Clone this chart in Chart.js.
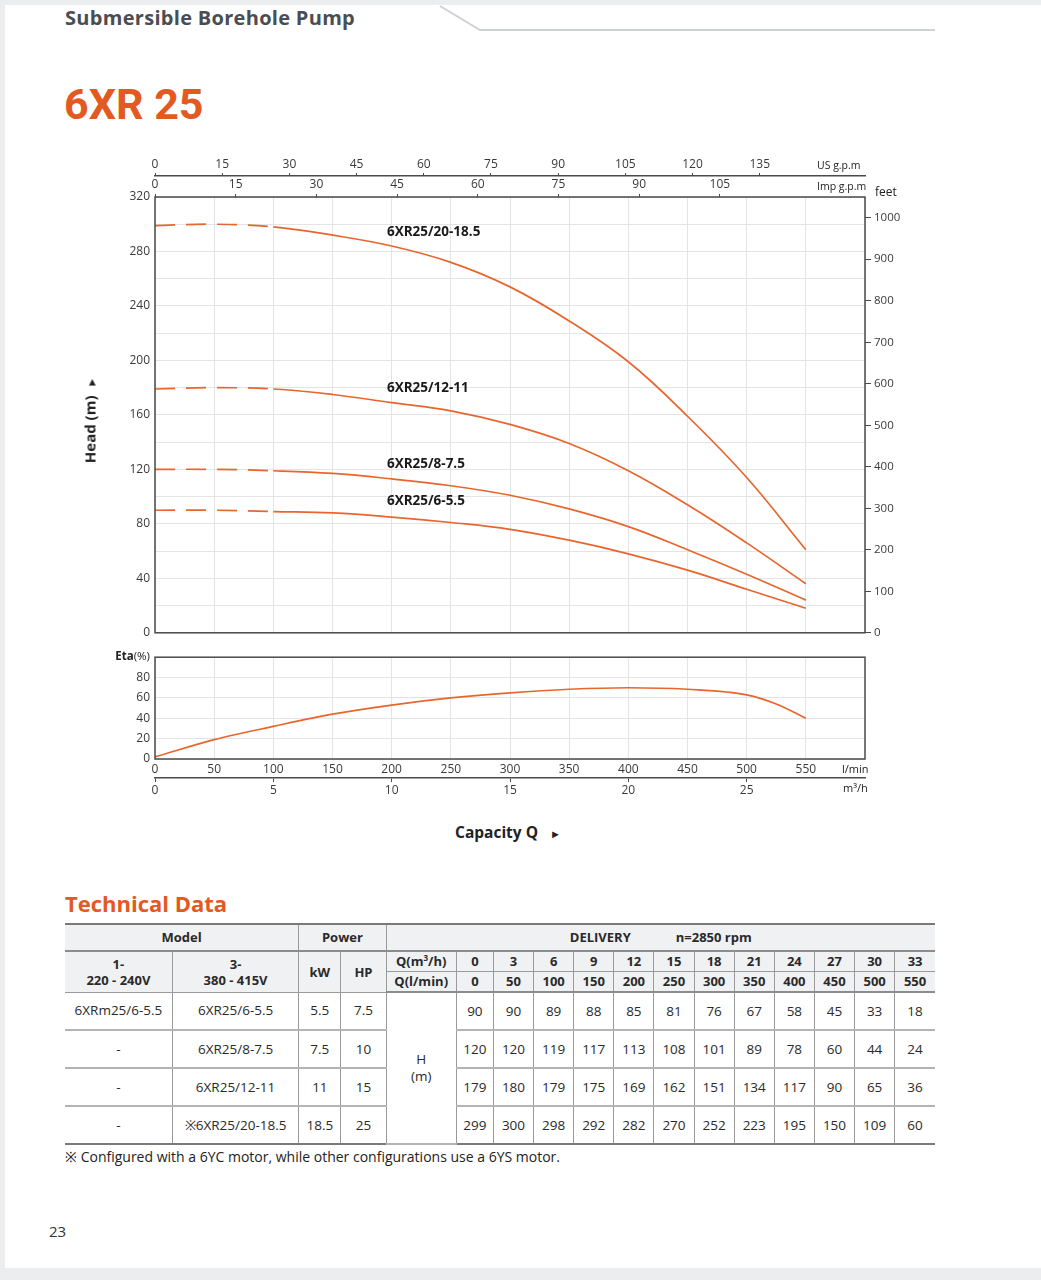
<!DOCTYPE html>
<html>
<head>
<meta charset="utf-8">
<title>6XR 25 - Submersible Borehole Pump</title>
<script src="https://cdn.jsdelivr.net/npm/chart.js@4.4.1/dist/chart.umd.min.js"></script>
<style>
  body { margin: 0; background: #fff; font-family: "Open Sans", sans-serif; color: #222; }
  #page { position: relative; width: 1041px; height: 1280px; background: #fff; overflow: hidden; }
  .edge { position: absolute; background: #ebedef; }
  .t { position: absolute; line-height: 1; transform: translateY(-50%); white-space: nowrap; }
  canvas { position: absolute; }
  #tech { position: absolute; left: 65px; top: 923px; width: 870px; border-collapse: collapse;
          table-layout: fixed; font-size: 13.5px; color: #2a2a2a;
          border-top: 2px solid #7a7a7a; border-bottom: 2px solid #7a7a7a; }
  #tech th, #tech td { padding: 0; text-align: center; border-left: 1px solid #9a9a9a; line-height: 1.25; }
  #tech th { font-weight: 700; background: #eff1f3; font-size: 13px; }
  #tech tr.r1 th { height: 25px; border-bottom: 2px solid #8c8c8c; }
  #tech tr.r2 th { height: 19px; border-bottom: 1px solid #9a9a9a; }
  #tech tr.r3 th { height: 19px; border-bottom: 2px solid #8c8c8c; }
  #tech tr.d td { height: 36px; border-bottom: 2px solid #b4b4b4; }
  #tech tr.d:last-child td { border-bottom: none; }
  #tech .first { border-left: none; }
</style>
</head>
<body>
<div id="page">
  <div class="edge" style="left:0;top:0;width:1041px;height:5px"></div>
  <div class="edge" style="left:0;top:0;width:5px;height:1280px"></div>
  <div class="edge" style="left:0;top:1268px;width:1041px;height:12px"></div>
  <svg style="position:absolute;left:0;top:0" width="1041" height="40">
    <polyline points="440,6 480,30 935,30" fill="none" stroke="#cfd2d5" stroke-width="2"/>
  </svg>

  <div class="t" style="left:65px;top:18px;font-weight:700;font-size:20px;letter-spacing:0.3px;color:#4a4d52">Submersible Borehole Pump</div>
  <div class="t" style="left:64px;top:104px;font-family:Roboto;font-weight:700;font-size:43px;color:#e25a22">6XR 25</div>

  <canvas id="headChart" width="960" height="495" style="left:40px;top:150px"></canvas>
  <canvas id="etaChart" width="960" height="160" style="left:40px;top:645px"></canvas>

  <div class="t" style="left:817px;top:165px;font-size:10.5px">US g.p.m</div>
  <div class="t" style="left:817px;top:186px;font-size:10.5px">Imp g.p.m</div>
  <div class="t" style="left:875px;top:192px;font-size:12px">feet</div>
  <div class="t" style="left:842px;top:768px;font-size:11px">l/min</div>
  <div class="t" style="left:843px;top:787px;font-size:11px">m³/h</div>
  <div class="t" style="right:891px;top:656px;font-size:11.5px"><b>Eta</b>(%)</div>
  <div class="t" style="left:20px;top:420px;width:140px;text-align:center;font-weight:700;font-size:15px;transform:translateY(-50%) rotate(-90deg)">Head (m)&nbsp;&nbsp;<span style="font-size:11px">►</span></div>
  <div class="t" style="left:455px;top:833px;font-weight:700;font-size:15.5px">Capacity Q&nbsp;&nbsp;&nbsp;<span style="font-size:11px">►</span></div>

  <div class="t" style="left:65px;top:903px;font-weight:700;font-size:22px;color:#e25a22">Technical Data</div>
  <table id="tech"></table>
  <div class="t" style="left:65px;top:1157px;font-size:14px">※ Configured with a 6YC motor, while other configurations use a 6YS motor.</div>
  <div class="t" style="left:49px;top:1231px;font-size:15px;color:#333">23</div>
</div>

<script>
// capacity points (l/min and m3/h)
const lpm = [0, 50, 100, 150, 200, 250, 300, 350, 400, 450, 500, 550];
const m3h = [0, 3, 6, 9, 12, 15, 18, 21, 24, 27, 30, 33];

// head values as printed in the table
const table6_55 = [90, 90, 89, 88, 85, 81, 76, 67, 58, 45, 33, 18];
const table8_75 = [120, 120, 119, 117, 113, 108, 101, 89, 78, 60, 44, 24];
const table12_11 = [179, 180, 179, 175, 169, 162, 151, 134, 117, 90, 65, 36];
const table20_185 = [299, 300, 298, 292, 282, 270, 252, 223, 195, 150, 109, 60];

// head values (they are smoother than the table)
const curve6_55 = [90, 90, 89, 88, 85, 81, 76, 68, 58, 46, 32, 18];
const curve8_75 = [120, 120, 119, 117, 113, 108, 101, 91, 78, 61, 43, 24];
const curve12_11 = [179, 180, 179, 175, 169, 163, 153, 139, 119, 94, 66, 36];
const curve20_185 = [299, 300, 298, 292, 284, 272, 254, 229, 199, 159, 114, 61];

// efficiency curve
const etaQ = [0, 50, 100, 150, 200, 250, 300, 350, 400, 450, 500, 525, 550];
const eta = [2, 19, 32, 44, 53, 60, 65, 68.5, 70, 68.5, 63, 54, 40];

const models = ['6XR25/6-5.5', '6XR25/8-7.5', '6XR25/12-11', '6XR25/20-18.5'];
const modelsSingle = ['6XRm25/6-5.5', '-', '-', '-'];
const motorNote = [false, false, false, true];
const kw = [5.5, 7.5, 11, 18.5];
const hp = [7.5, 10, 15, 25];
const tableHeads = [table6_55, table8_75, table12_11, table20_185];
const curveHeads = [curve6_55, curve8_75, curve12_11, curve20_185];

// tick labels
const usGpmTicks = [0, 15, 30, 45, 60, 75, 90, 105, 120, 135];
const impGpmTicks = [0, 15, 30, 45, 60, 75, 90, 105];
const feetTicks = [0, 100, 200, 300, 400, 500, 600, 700, 800, 900, 1000];
const lpmTicks = [0, 50, 100, 150, 200, 250, 300, 350, 400, 450, 500, 550];
const m3hTicks = [0, 5, 10, 15, 20, 25];

// where the curve names sit (l/min, head m)
const curveLabels = [
  { text: '6XR25/20-18.5', q: 196, h: 294 },
  { text: '6XR25/12-11', q: 196, h: 180 },
  { text: '6XR25/8-7.5', q: 196, h: 124 },
  { text: '6XR25/6-5.5', q: 196, h: 97 },
];

const ORANGE = '#e8662e';
const GRID = '#e3e4e6';
const TICK = '#3a3a3a';
const AXIS = '#4a4a4a';
const FONT = '"Open Sans", sans-serif';

Chart.defaults.font.family = FONT;
Chart.defaults.color = TICK;

const framePlugin = {
  id: 'frame',
  afterDraw(chart) {
    const { ctx, chartArea: a } = chart;
    ctx.save();
    ctx.strokeStyle = AXIS;
    ctx.lineWidth = 1.5;
    ctx.strokeRect(a.left, a.top, a.right - a.left, a.bottom - a.top);
    ctx.restore();
  }
};

const labelPlugin = {
  id: 'curveLabels',
  afterDatasetsDraw(chart) {
    const { ctx, scales } = chart;
    ctx.save();
    ctx.font = 'bold 13.5px ' + FONT;
    ctx.fillStyle = '#1a1a1a';
    ctx.textBaseline = 'middle';
    curveLabels.forEach(l => {
      ctx.fillText(l.text, scales.x.getPixelForValue(l.q), scales.y.getPixelForValue(l.h));
    });
    ctx.restore();
  }
};

function curve(values) {
  return {
    data: lpm.map((q, i) => ({ x: q, y: values[i] })),
    borderColor: ORANGE,
    borderWidth: 1.7,
    pointRadius: 0,
    tension: 0.4,
    segment: { borderDash: c => (c.p1.parsed.x <= 100 ? [20, 11] : undefined) }
  };
}

const fixed = (v) => s => { s.ticks = v.map(x => ({ value: x })); };

new Chart(document.getElementById('headChart'), {
  type: 'line',
  data: { datasets: curveHeads.map(curve) },
  options: {
    responsive: false,
    animation: false,
    devicePixelRatio: 1,
    layout: { padding: { top: 0, left: 0, right: 0, bottom: 8 } },
    plugins: { legend: { display: false }, tooltip: { enabled: false } },
    scales: {
      x: {
        type: 'linear', min: 0, max: 600, position: 'bottom',
        ticks: { display: false, stepSize: 50 },
        grid: { color: GRID, drawTicks: false },
        border: { display: false },
        afterFit: s => { s.height = 0; }
      },
      y: {
        type: 'linear', min: 0, max: 320, position: 'left',
        ticks: { stepSize: 20, padding: 5, font: { size: 12 }, callback: v => (v % 40 === 0 ? v : '') },
        grid: { color: GRID, drawTicks: false },
        border: { display: false },
        afterFit: s => { s.width = 115; }
      },
      yFeet: {
        type: 'linear', axis: 'y', position: 'right', min: 0, max: 320 / 0.3048,
        afterBuildTicks: fixed(feetTicks),
        ticks: { padding: 3, font: { size: 11.5 }, callback: v => String(v) },
        grid: { drawOnChartArea: false, tickLength: 6, color: AXIS, tickColor: AXIS },
        border: { display: false },
        afterFit: s => { s.width = 135; }
      },
      xImp: {
        type: 'linear', axis: 'x', position: 'top', weight: 0, min: 0, max: 600 / 4.54609,
        afterBuildTicks: fixed(impGpmTicks),
        ticks: { padding: 2, font: { size: 12 }, maxRotation: 0 },
        grid: { drawOnChartArea: false, tickLength: 3, tickColor: AXIS },
        border: { display: false },
        afterFit: s => { s.height = 21; }
      },
      xUS: {
        type: 'linear', axis: 'x', position: 'top', weight: 1, min: 0, max: 600 / 3.785411784,
        afterBuildTicks: fixed(usGpmTicks),
        ticks: { padding: 1, font: { size: 12 }, maxRotation: 0 },
        grid: { drawOnChartArea: false, tickLength: 3, tickColor: AXIS },
        border: { display: true, color: AXIS, width: 1.5 },
        afterFit: s => { s.height = 26; }
      }
    }
  },
  plugins: [framePlugin, labelPlugin]
});

new Chart(document.getElementById('etaChart'), {
  type: 'line',
  data: {
    datasets: [{
      data: etaQ.map((q, i) => ({ x: q, y: eta[i] })),
      borderColor: ORANGE,
      borderWidth: 1.7,
      pointRadius: 0,
      cubicInterpolationMode: 'monotone'
    }]
  },
  options: {
    responsive: false,
    animation: false,
    devicePixelRatio: 1,
    layout: { padding: { top: 10, left: 0, right: 135, bottom: 0 } },
    plugins: { legend: { display: false }, tooltip: { enabled: false } },
    scales: {
      x: {
        type: 'linear', min: 0, max: 600, position: 'bottom', weight: 0,
        afterBuildTicks: fixed(lpmTicks),
        ticks: { padding: 3, font: { size: 12 }, maxRotation: 0 },
        grid: { color: GRID, drawTicks: false },
        border: { display: false },
        afterFit: s => { s.height = 19; }
      },
      xM3: {
        type: 'linear', axis: 'x', position: 'bottom', weight: 1, min: 0, max: 30,
        afterBuildTicks: fixed(m3hTicks),
        ticks: { padding: 1, font: { size: 12 }, maxRotation: 0 },
        grid: { drawOnChartArea: false, tickLength: 4, tickColor: AXIS },
        border: { display: true, color: AXIS, width: 1.5 },
        afterFit: s => { s.height = 27; }
      },
      y: {
        type: 'linear', min: 0, max: 100, position: 'left',
        ticks: { stepSize: 10, padding: 5, font: { size: 12 }, callback: v => (v % 20 === 0 && v < 100 ? v : '') },
        grid: { color: GRID, drawTicks: false },
        border: { display: false },
        afterFit: s => { s.width = 115; }
      }
    }
  },
  plugins: [framePlugin]
});

// technical data table
const colW = [107, 126, 42, 45, 70, 37].concat(Array(11).fill(40));
let html = '<colgroup>' + colW.map(w => `<col style="width:${w}px">`).join('') + '</colgroup>';
html += '<tr class="r1"><th class="first" colspan="2">Model</th><th colspan="2">Power</th>' +
        '<th colspan="13"><span>DELIVERY</span><span style="margin-left:45px">n=2850 rpm</span></th></tr>';
html += '<tr class="r2"><th class="first" rowspan="2">1-<br>220 - 240V</th><th rowspan="2">3-<br>380 - 415V</th>' +
        '<th rowspan="2">kW</th><th rowspan="2">HP</th><th>Q(m<sup style="font-size:8px">3</sup>/h)</th>' +
        m3h.map(v => `<th>${v}</th>`).join('') + '</tr>';
html += '<tr class="r3"><th>Q(l/min)</th>' + lpm.map(v => `<th>${v}</th>`).join('') + '</tr>';
models.forEach((m, i) => {
  html += '<tr class="d">' +
    `<td class="first">${modelsSingle[i]}</td>` +
    `<td>${motorNote[i] ? '※' : ''}${m}</td>` +
    `<td>${kw[i]}</td><td>${hp[i]}</td>` +
    (i === 0 ? '<td rowspan="4">H<br>(m)</td>' : '') +
    tableHeads[i].map(v => `<td>${v}</td>`).join('') +
    '</tr>';
});
document.getElementById('tech').innerHTML = html;
</script>
</body>
</html>
